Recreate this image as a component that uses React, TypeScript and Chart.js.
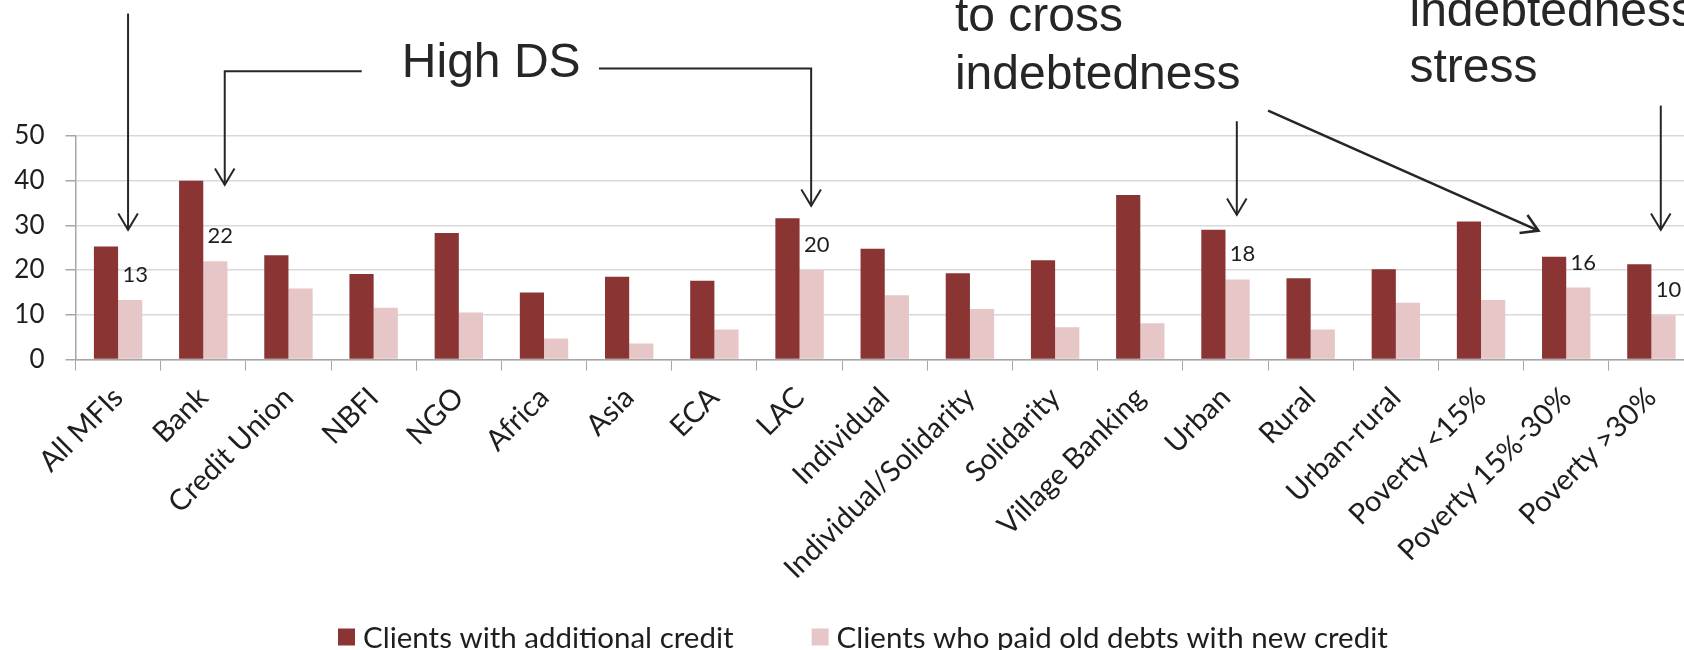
import React, { useEffect, useRef } from 'react';
import { Chart, registerables } from 'chart.js';

Chart.register(...registerables);

// ---------- data ----------
const categories = [
  'All MFIs', 'Bank', 'Credit Union', 'NBFI', 'NGO', 'Africa', 'Asia', 'ECA', 'LAC',
  'Individual', 'Individual/Solidarity', 'Solidarity', 'Village Banking', 'Urban', 'Rural',
  'Urban-rural', 'Poverty <15%', 'Poverty 15%-30%', 'Poverty >30%',
];
const additionalCredit = [25.3, 40.0, 23.3, 19.1, 28.3, 15.0, 18.5, 17.6, 31.6, 24.8, 19.3, 22.2, 36.8, 29.0, 18.2, 20.2, 30.9, 23.0, 21.3];
const paidOldDebts = [13.3, 22.0, 15.9, 11.6, 10.5, 4.7, 3.6, 6.7, 20.0, 14.4, 11.3, 7.2, 8.1, 17.9, 6.7, 12.7, 13.3, 16.1, 9.9];
const seriesLabels = ['Clients with additional credit', 'Clients who paid old debts with new credit'];
const yTicks = [0, 10, 20, 30, 40, 50];
const labeledCategories = ['All MFIs', 'Bank', 'LAC', 'Urban', 'Poverty 15%-30%', 'Poverty >30%'];

// ---------- annotations (in category-index / value space) ----------
const annotationTexts = [
  { lines: ['High DS'], x: 4.38, y: 63.2, align: 'center' },
  { lines: ['to cross', 'indebtedness'], x: 9.824, y: 73.45, step: 12.9, align: 'left' },
  { lines: ['indebtedness', 'stress'], x: 15.16, y: 74.57, step: 12.56, align: 'left' },
];
const arrowPaths = [
  { pts: [[0.117, 77.4], [0.117, 29.0]], width: 2 },
  { pts: [[2.86, 64.5], [1.252, 64.5], [1.252, 39.1]], width: 2 },
  { pts: [[5.645, 65.1], [8.136, 65.1], [8.136, 34.4]], width: 2 },
  { pts: [[13.133, 53.3], [13.133, 32.35]], width: 2 },
  { pts: [[13.5, 55.67], [16.673, 28.83]], width: 2.6 },
  { pts: [[18.11, 56.8], [18.11, 29.0]], width: 2 },
];

const DARK = '#8A3434';
const LIGHT = '#E6C6C7';
const TEXT = '#1e1e1e';
const AXIS = '#a6a6a6';
const GRID = '#d9d9d9';
const TICK_FONT = 'Lato';

const W = 1700;
const H = 650;

const overlayPlugin = {
  id: 'overlay',
  afterDraw(chart: any) {
    const ctx = chart.ctx;
    const xs = chart.scales.x;
    const ys = chart.scales.y;
    const px = (i: number) => xs.getPixelForValue(i);
    const py = (v: number) => ys.getPixelForValue(v);

    // data labels on the light series
    ctx.save();
    ctx.fillStyle = TEXT;
    ctx.font = `22px ${TICK_FONT}`;
    ctx.textAlign = 'center';
    ctx.textBaseline = 'alphabetic';
    const meta = chart.getDatasetMeta(1);
    labeledCategories.forEach((c) => {
      const i = categories.indexOf(c);
      const el: any = meta.data[i];
      if (!el) return;
      ctx.fillText(String(Math.round(paidOldDebts[i])), el.x + 5, el.y - 18);
    });
    ctx.restore();

    // annotation texts
    ctx.save();
    ctx.fillStyle = '#262626';
    ctx.font = '48px "Liberation Sans", Arial, sans-serif';
    ctx.textBaseline = 'alphabetic';
    annotationTexts.forEach((t: any) => {
      ctx.textAlign = t.align;
      t.lines.forEach((line: string, k: number) => {
        ctx.fillText(line, px(t.x), py(t.y - k * (t.step || 0)));
      });
    });
    ctx.restore();

    // arrows
    ctx.save();
    ctx.strokeStyle = '#262626';
    ctx.lineCap = 'butt';
    ctx.lineJoin = 'miter';
    arrowPaths.forEach((a) => {
      const pts = a.pts.map(([i, v]) => [px(i), py(v)]);
      ctx.lineWidth = a.width;
      ctx.beginPath();
      ctx.moveTo(pts[0][0], pts[0][1]);
      for (let k = 1; k < pts.length; k++) ctx.lineTo(pts[k][0], pts[k][1]);
      ctx.stroke();
      const [tx, ty] = pts[pts.length - 1];
      const [sx, sy] = pts[pts.length - 2];
      const ang = Math.atan2(ty - sy, tx - sx);
      const len = 19;
      const half = (31 * Math.PI) / 180;
      ctx.beginPath();
      ctx.moveTo(tx - len * Math.cos(ang - half), ty - len * Math.sin(ang - half));
      ctx.lineTo(tx, ty);
      ctx.lineTo(tx - len * Math.cos(ang + half), ty - len * Math.sin(ang + half));
      ctx.stroke();
    });
    ctx.restore();

    // legend
    ctx.save();
    const fontSize = 29.5;
    ctx.font = `${fontSize}px ${TICK_FONT}`;
    ctx.textAlign = 'left';
    ctx.textBaseline = 'middle';
    let x = 338;
    const boxTop = 628.5;
    const box = 17;
    chart.data.datasets.forEach((ds: any) => {
      ctx.fillStyle = ds.backgroundColor;
      ctx.fillRect(x, boxTop, box, box);
      ctx.fillStyle = TEXT;
      ctx.fillText(ds.label, x + box + 8, boxTop + box / 2 + 1);
      x += box + 8 + ctx.measureText(ds.label).width + 78;
    });
    ctx.restore();
  },
};

export default function App() {
  const ref = useRef<HTMLCanvasElement | null>(null);

  useEffect(() => {
    if (!ref.current) return;
    const chart = new Chart(ref.current, {
      type: 'bar',
      data: {
        labels: categories,
        datasets: [
          { label: seriesLabels[0], data: additionalCredit, backgroundColor: DARK, borderWidth: 0, categoryPercentage: 0.568, barPercentage: 1.0 },
          { label: seriesLabels[1], data: paidOldDebts, backgroundColor: LIGHT, borderWidth: 0, categoryPercentage: 0.568, barPercentage: 1.0 },
        ],
      },
      options: {
        responsive: false,
        animation: false,
        layout: { padding: { top: 136, right: 6, left: 0, bottom: 0 } },
        plugins: {
          legend: { display: false },
          tooltip: { enabled: false },
        },
        scales: {
          x: {
            type: 'category',
            offset: true,
            grid: {
              display: true,
              drawOnChartArea: false,
              drawTicks: true,
              offset: true,
              tickLength: 11,
              tickColor: AXIS,
              color: AXIS,
            },
            border: { display: true, color: AXIS, width: 1.5 },
            ticks: {
              autoSkip: false,
              maxRotation: 45,
              minRotation: 45,
              padding: 10,
              color: TEXT,
              font: { family: TICK_FONT, size: 29 },
            },
            afterFit: (s: any) => { s.height = H - 359.5; },
          },
          y: {
            min: 0,
            max: 50,
            afterBuildTicks: (s: any) => { s.ticks = yTicks.map((v) => ({ value: v })); },
            grid: { color: GRID, lineWidth: 1.5, tickLength: 10, tickColor: AXIS, drawTicks: true },
            border: { display: true, color: AXIS, width: 1.5 },
            ticks: {
              padding: 21,
              color: TEXT,
              font: { family: TICK_FONT, size: 26 },
            },
            afterFit: (s: any) => { s.width = 75.5; },
          },
        },
      },
      plugins: [overlayPlugin],
    });
    let alive = true;
    if ((document as any).fonts && (document as any).fonts.ready) {
      (document as any).fonts.ready.then(() => { if (alive) chart.update(); });
    }
    return () => { alive = false; chart.destroy(); };
  }, []);

  return (
    <div style={{ position: 'fixed', left: 0, top: 0, width: '100vw', height: '100vh', overflow: 'hidden', background: '#fff' }}>
      <canvas ref={ref} width={W} height={H} style={{ display: 'block', width: W, height: H }} />
    </div>
  );
}
